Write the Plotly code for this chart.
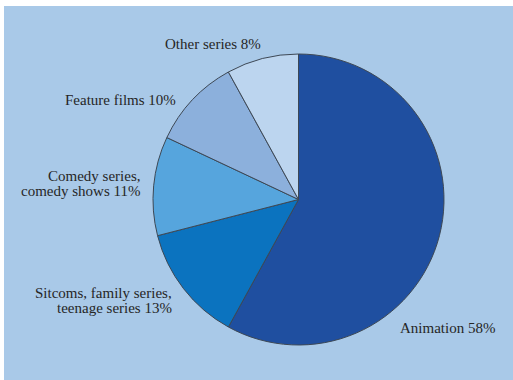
import plotly.graph_objects as go

# Share of programmes by genre (%)
genres = ["Animation", "Sitcoms, family series,<br>teenage series", "Comedy series,<br>comedy shows",
          "Feature films", "Other series"]
shares = [58, 13, 11, 10, 8]
slice_colors = ["#1f4fa0", "#0b73bf", "#56a5dd", "#8cb0dc", "#bcd5ef"]

W, H = 513, 380
PANEL = "#a9c9e8"

# pie geometry in pixels
cx, cy, r = 298.5, 199.5, 145.5

# label anchor points (pixels, first line) and alignment
label_pos = [
    (398, 328, "left"),
    (174, 293, "right"),
    (142, 176, "right"),
    (178, 100, "right"),
    (212.5, 44, "center"),
]
LINE_GAP = 15
FONT = dict(family="Liberation Serif", size=15, color="#262626")


def px(x):
    return x / W


def py(y):
    return 1 - y / H


fig = go.Figure(go.Pie(
    labels=[g.replace("<br>", " ") for g in genres],
    values=shares,
    sort=False,
    direction="clockwise",
    rotation=0,
    marker=dict(colors=slice_colors, line=dict(color="#3d4855", width=1)),
    textinfo="none",
    hoverinfo="label+percent",
    showlegend=False,
    domain=dict(x=[px(cx - r), px(cx + r)], y=[py(cy + r), py(cy - r)]),
))

for g, s, (x, y, al) in zip(genres, shares, label_pos):
    lines = f"{g} {s}%".split("<br>")
    for i, line in enumerate(lines):
        fig.add_annotation(
            x=px(x), y=py(y + i * LINE_GAP), xref="paper", yref="paper",
            text=line, showarrow=False,
            xanchor=al, yanchor="middle", align=al,
            font=FONT,
        )

fig.update_layout(
    width=W, height=H,
    margin=dict(l=0, r=0, t=0, b=0),
    paper_bgcolor="white",
    plot_bgcolor="white",
    shapes=[dict(type="rect", xref="paper", yref="paper",
                 x0=px(4), x1=1, y0=0, y1=py(6),
                 fillcolor=PANEL, line=dict(width=0), layer="below")],
)

fig.write_html("out.html")
